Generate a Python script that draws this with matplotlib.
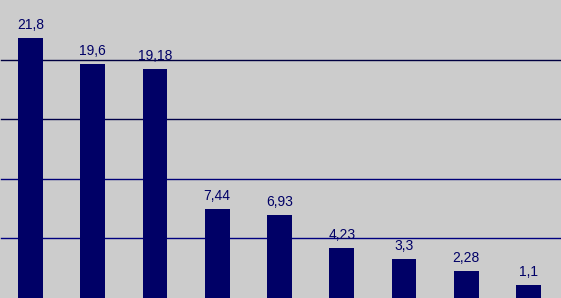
import matplotlib
matplotlib.use("Agg")
import matplotlib.pyplot as plt

values = [21.8, 19.6, 19.18, 7.44, 6.93, 4.23, 3.3, 2.28, 1.1]
labels = ["21,8", "19,6", "19,18", "7,44", "6,93", "4,23", "3,3", "2,28", "1,1"]
grid_levels = [5, 10, 15, 20]
grid_colors = ["#000080", "#000078", "#000048", "#000040"]

fig = plt.figure(figsize=(5.61, 2.98), dpi=100)
fig.patch.set_facecolor("#cccccc")
ax = fig.add_axes([0, 0, 1, 1])
ax.set_facecolor("#cccccc")

x = list(range(len(values)))
for lvl, c in zip(grid_levels, grid_colors):
    ax.axhline(lvl, xmin=1/561, xmax=560/561, color=c, linewidth=1.0, zorder=1)

ax.bar(x, values, width=0.40, color="#000066", zorder=2)

for xi, v, lab in zip(x, values, labels):
    ax.annotate(lab, xy=(xi, v), xytext=(0, 6.5), textcoords="offset points",
                ha="center", va="baseline", fontsize=10,
                family="Liberation Sans", color="#000066")

ax.set_xlim(-30.5/62.25, (561-30.5)/62.25)
ax.set_ylim(0, 25)
ax.axis("off")

fig.savefig("out.png", dpi=100, facecolor=fig.get_facecolor())
